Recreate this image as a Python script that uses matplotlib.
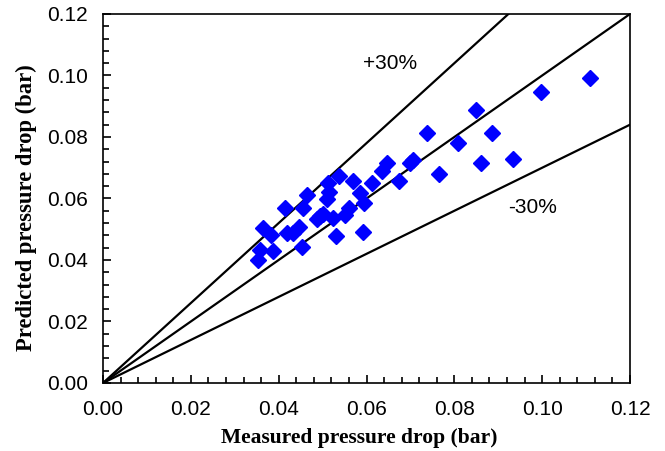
import matplotlib
matplotlib.use("Agg")
import matplotlib.pyplot as plt
from matplotlib.ticker import MultipleLocator, FormatStrFormatter

# measured vs predicted pressure drop (bar)
measured = [0.1110, 0.0997, 0.0850, 0.0737, 0.0886, 0.0809, 0.0934, 0.0861,
            0.0764, 0.0699, 0.0706, 0.0646, 0.0635, 0.0675, 0.0612, 0.0570,
            0.0538, 0.0513, 0.0515, 0.0511, 0.0465, 0.0585, 0.0594, 0.0559,
            0.0551, 0.0502, 0.0487, 0.0524, 0.0455, 0.0414, 0.0447, 0.0432,
            0.0418, 0.0365, 0.0382, 0.0357, 0.0388, 0.0354, 0.0452, 0.0531,
            0.0593, 0.0494]
predicted = [0.0992, 0.0945, 0.0888, 0.0812, 0.0814, 0.0780, 0.0730, 0.0717,
             0.0681, 0.0716, 0.0725, 0.0716, 0.0690, 0.0657, 0.0651, 0.0658,
             0.0673, 0.0651, 0.0622, 0.0597, 0.0611, 0.0617, 0.0586, 0.0568,
             0.0546, 0.0550, 0.0532, 0.0538, 0.0568, 0.0568, 0.0508, 0.0487,
             0.0487, 0.0503, 0.0481, 0.0433, 0.0429, 0.0400, 0.0442, 0.0478,
             0.0492, 0.0542]

ref_x = [0.0, 0.12]
bands = [1.3, 1.0, 0.7]
band_labels = ["+30%", "-30%"]

fig = plt.figure(figsize=(6.65, 4.51), dpi=100)
ax = fig.add_axes([0.1549, 0.1508, 0.7925, 0.8182])

for k in bands:
    ax.plot(ref_x, [k * v for v in ref_x], color="black", lw=1.6, zorder=2)

ax.plot(measured, predicted, linestyle="none", marker="D", ms=8,
        color="#0000ff", markeredgecolor="#0000ff", zorder=3)

ax.text(0.0653, 0.1040, band_labels[0], fontsize=15, family="Liberation Sans",
        ha="center", va="center")
ax.text(0.0977, 0.0570, band_labels[1], fontsize=15, family="Liberation Sans",
        ha="center", va="center")

ax.set_xlim(0, 0.12)
ax.set_ylim(0, 0.12)
ax.xaxis.set_major_locator(MultipleLocator(0.02))
ax.yaxis.set_major_locator(MultipleLocator(0.02))
ax.xaxis.set_minor_locator(MultipleLocator(0.004))
ax.yaxis.set_minor_locator(MultipleLocator(0.004))
ax.xaxis.set_major_formatter(FormatStrFormatter("%.2f"))
ax.yaxis.set_major_formatter(FormatStrFormatter("%.2f"))
ax.tick_params(which="both", direction="in", top=False, right=False,
               labelsize=15, width=1.2)
ax.tick_params(which="major", length=6)
ax.tick_params(which="minor", length=4)
ax.tick_params(axis="x", which="major", pad=12)
ax.tick_params(axis="y", which="major", pad=11)
for lab in ax.get_xticklabels() + ax.get_yticklabels():
    lab.set_family("Liberation Sans")
for s in ax.spines.values():
    s.set_linewidth(1.2)

ax.set_xlabel("Measured pressure drop (bar)", fontsize=15.5, fontweight="bold",
              family="Liberation Serif", labelpad=7)
ax.set_ylabel("Predicted pressure drop (bar)", fontsize=16.3, fontweight="bold",
              family="Liberation Serif", labelpad=7)
ax.xaxis.label.set_x(0.487)
ax.yaxis.label.set_y(0.474)

fig.savefig("out.png", dpi=100)
